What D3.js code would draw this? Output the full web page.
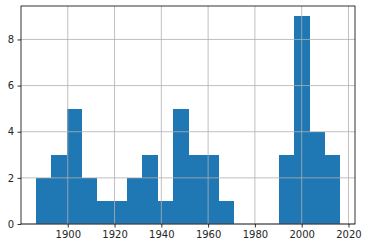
<!DOCTYPE html>
<html>
<head>
<meta charset="utf-8">
<script src="https://cdn.jsdelivr.net/npm/d3@7"></script>
<style>
  body { margin: 0; background: #fff; }
  text { font-family: "DejaVu Sans", sans-serif; font-size: 10px; fill: #262626; }
</style>
</head>
<body>
<div id="chart"></div>
<script>
// histogram: 20 equal bins between dataMin and dataMax
const dataMin = 1886.5;
const dataMax = 2016.3;
const counts = [2, 3, 5, 2, 1, 1, 2, 3, 1, 5, 3, 3, 1, 0, 0, 0, 3, 9, 4, 3];
const xTicks = [1900, 1920, 1940, 1960, 1980, 2000, 2020];
const yTicks = [0, 2, 4, 6, 8];

const width = 367;
const height = 248;
const margin = { top: 6, right: 12, bottom: 24, left: 21 };
const innerW = width - margin.left - margin.right;
const innerH = height - margin.top - margin.bottom;

const svg = d3.select('#chart').append('svg')
  .attr('width', width)
  .attr('height', height);

const g = svg.append('g')
  .attr('transform', `translate(${margin.left},${margin.top})`);

const binW = (dataMax - dataMin) / counts.length;
const bins = counts.map((c, i) => ({ x0: dataMin + i * binW, x1: dataMin + (i + 1) * binW, c }));

const pad = (dataMax - dataMin) * 0.05;
const x = d3.scaleLinear()
  .domain([dataMin - pad, dataMax + pad])
  .range([0, innerW]);

const yMax = d3.max(counts) * 1.05;
const y = d3.scaleLinear()
  .domain([0, yMax])
  .range([innerH, 0]);

// adjacent bars: no anti-aliased seams between them
g.selectAll('.bar')
  .data(bins)
  .enter()
  .append('rect')
  .attr('class', 'bar')
  .attr('fill', '#1f77b4')
  .attr('shape-rendering', 'crispEdges')
  .attr('x', d => x(d.x0))
  .attr('width', d => x(d.x1) - x(d.x0) + 0.5)
  .attr('y', d => y(d.c))
  .attr('height', d => innerH - y(d.c));

// grid drawn over the bars
g.selectAll('.vgrid')
  .data(xTicks)
  .enter()
  .append('line')
  .attr('x1', d => x(d)).attr('x2', d => x(d))
  .attr('y1', 0).attr('y2', innerH)
  .attr('stroke', '#b0b0b0')
  .attr('stroke-width', 0.8);

g.selectAll('.hgrid')
  .data(yTicks)
  .enter()
  .append('line')
  .attr('x1', 0).attr('x2', innerW)
  .attr('y1', d => y(d)).attr('y2', d => y(d))
  .attr('stroke', '#b0b0b0')
  .attr('stroke-width', 0.8);

const xAxis = g.append('g')
  .attr('transform', `translate(0,${innerH})`)
  .call(d3.axisBottom(x).tickValues(xTicks).tickFormat(d3.format('d')).tickSize(3.5).tickPadding(3.5));

const yAxis = g.append('g')
  .call(d3.axisLeft(y).tickValues(yTicks).tickFormat(d3.format('d')).tickSize(3.5).tickPadding(3.5));

[xAxis, yAxis].forEach(a => {
  a.select('.domain').remove();
  a.selectAll('line').attr('stroke', '#000').attr('stroke-width', 0.8);
  a.selectAll('text').style('font-family', '"DejaVu Sans", sans-serif').style('font-size', '10px').attr('fill', '#262626');
});

g.append('rect')
  .attr('x', 0).attr('y', 0)
  .attr('width', innerW).attr('height', innerH)
  .attr('fill', 'none')
  .attr('stroke', '#000')
  .attr('stroke-width', 0.8);
</script>
</body>
</html>
